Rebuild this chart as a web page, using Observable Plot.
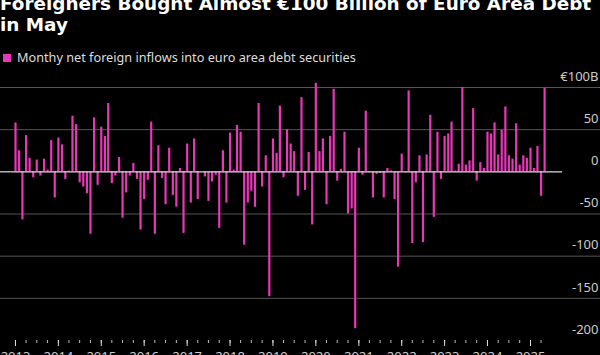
<!DOCTYPE html>
<html><head><meta charset="utf-8">
<script src="https://cdn.jsdelivr.net/npm/d3@7"></script>
<script src="https://cdn.jsdelivr.net/npm/@observablehq/plot@0.6"></script>
<style>
html,body{margin:0;padding:0;background:#000;}
body{width:600px;height:355px;overflow:hidden;position:relative;font-family:"Noto Sans",sans-serif;}
#title{position:absolute;left:0;top:-7px;color:#fff;font-family:"DejaVu Sans",sans-serif;font-weight:700;font-size:18.4px;line-height:21px;white-space:nowrap;}
#legend{position:absolute;left:3px;top:48px;color:#ddd;font-size:12.7px;line-height:18px;white-space:nowrap;}
#legend .sw{display:inline-block;width:8px;height:8px;background:#e837b8;margin-right:6px;vertical-align:0px;}
#chart{position:absolute;left:0;top:70px;}
</style></head>
<body>
<div id="title">Foreigners Bought Almost €100 Billion of Euro Area Debt<br>in May</div>
<div id="legend"><span class="sw"></span>Monthy net foreign inflows into euro area debt securities</div>
<div id="chart"></div>
<script>
const startYear = 2013;
const v2013 = [58, 25, -57, 43, 16, -7, 14, -5, 15, 2, 37, -31];
const v2014 = [40, 32, -9, 1, 66, 56, -13, -18, -26, -74, 64, -16];
const v2015 = [53, 42, 81, -14, -5, 17, -55, -25, -5, 10, -9, -69];
const v2016 = [-33, -10, 59, -74, 31, -8, -39, 28, -28, -42, 4, -73];
const v2017 = [33, -37, 39, -33, 0, -6, -35, -12, -4, -67, 25, -37];
const v2018 = [46, 2, 55, 47, -87, -37, -23, -42, 81, -18, 19, -148];
const v2019 = [39, 22, 78, -7, 50, 33, 24, -29, 88, -22, 23, -63];
const v2020 = [105, 24, 39, -39, 42, 98, -11, 3, 47, -50, -44, -186];
const v2021 = [28, -4, 72, -1, -31, -3, -2, -31, 4, 1, -33, -113];
const v2022 = [21, -1, 96, -85, -13, 19, -84, 20, 67, -54, 47, -9];
const v2023 = [42, 45, 59, 1, 9, 100, 8, 13, 75, -11, 11, 4];
const v2024 = [47, 45, 58, 20, 49, 77, 19, 15, 57, 8, 19, 16];
const v2025 = [28, 4, 30, -29, 99];
const yearLabels = ["2013","2014","2015","2016","2017","2018","2019","2020","2021","2022","2023","2024","2025"];
const yTicks = [100, 50, 0, -50, -100, -150, -200];
const yTickLabels = ["€100B", "50", "0", "-50", "-100", "-150", "-200"];

const series = [v2013, v2014, v2015, v2016, v2017, v2018, v2019, v2020, v2021, v2022, v2023, v2024, v2025];
const data = [];
series.forEach((arr, yi) => arr.forEach((v, m) => data.push({date: new Date(Date.UTC(startYear + yi, m, 1)), value: v})));

const yearDates = yearLabels.map(s => new Date(Date.UTC(+s, 0, 1)));
const quarterDates = d3.utcMonth.every(3).range(new Date(Date.UTC(2013, 0, 1)), new Date(Date.UTC(2025, 4, 1)));
const tickData = yTicks.map((t, i) => ({t, label: yTickLabels[i]}));
const pink = "#e837b8";

const chart = Plot.plot({
  width: 600,
  height: 285,
  marginLeft: 0,
  marginRight: 0,
  marginTop: 17,
  marginBottom: 15,
  style: {background: "#000", color: "#ccc", fontFamily: "Noto Sans, sans-serif", fontSize: "13px", overflow: "visible"},
  x: {type: "utc", domain: [yearDates[0], yearDates[yearDates.length - 1]], range: [15, 530]},
  y: {domain: [-200, 100]},
  marks: [
    Plot.ruleY(yTicks.filter(t => t !== 0 && t !== -200), {stroke: "#555", strokeWidth: 1}),
    Plot.ruleX(data, {x: "date", y1: 0, y2: "value", stroke: pink, strokeWidth: 2.2}),
    Plot.ruleY([0], {x1: yearDates[0], x2: new Date(Date.UTC(2025, 9, 1)), stroke: "#ddd", strokeWidth: 1.2}),
    Plot.ruleY([0], {x1: new Date(Date.UTC(2012, 7, 1)), x2: yearDates[0], stroke: "#ddd", strokeWidth: 1.2}),
    Plot.text(tickData, {y: "t", text: "label", frameAnchor: "right", textAnchor: "end", dx: -2, dy: -11, fill: "#ccc", fontSize: 13}),
    Plot.axisX({ticks: quarterDates, tickSize: 3, tickFormat: null, text: null, stroke: "#bbb"}),
    Plot.axisX({ticks: yearDates, tickSize: 6, tickFormat: "%Y", tickPadding: 5, stroke: "#ddd", fill: "#ccc", fontSize: 13})
  ]
});
document.getElementById("chart").appendChild(chart);
</script>
</body></html>
